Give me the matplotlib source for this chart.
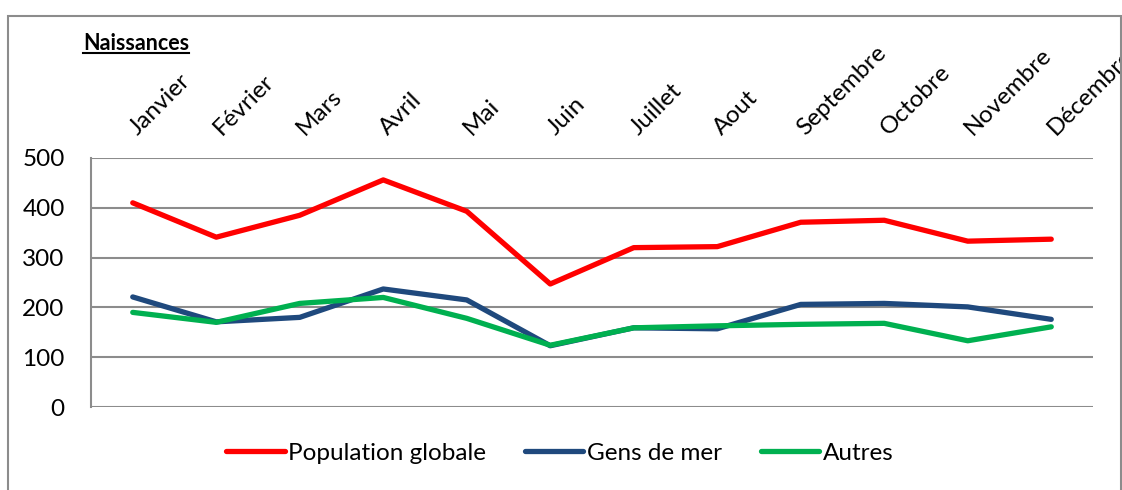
import numpy as np
import matplotlib.pyplot as plt
import matplotlib.transforms as mtransforms
from matplotlib.patches import Rectangle
from matplotlib.lines import Line2D

plt.rcParams['font.family'] = ['Lato', 'DejaVu Sans']

mois = ["Janvier", "Février", "Mars", "Avril", "Mai", "Juin", "Juillet",
        "Aout", "Septembre", "Octobre", "Novembre", "Décembre"]
population_globale = [410, 341, 385, 456, 393, 247, 320, 322, 371, 375, 333, 337]
gens_de_mer = [221, 171, 180, 237, 215, 123, 159, 157, 206, 208, 201, 176]
autres = [190, 170, 208, 220, 178, 124, 159, 163, 166, 168, 133, 161]

W, H = 1122, 490
fig = plt.figure(figsize=(W / 100, H / 100), dpi=100)
ax = fig.add_axes([91 / W, 1 - 407 / H, (1093 - 91) / W, (407 - 158) / H])

x = np.arange(len(mois))
ax.plot(x, population_globale, color='#FF0000', lw=3.8, solid_capstyle='round',
        label='Population globale')
ax.plot(x, gens_de_mer, color='#1F497D', lw=3.8, solid_capstyle='round',
        label='Gens de mer')
ax.plot(x, autres, color='#00B050', lw=3.8, solid_capstyle='round',
        label='Autres')

ax.set_xlim(-0.5, len(mois) - 0.5)
ax.set_ylim(0, 500)
ax.set_yticks([0, 100, 200, 300, 400, 500])
ax.yaxis.grid(True, color='#8C8C8C', lw=1.5)
ax.set_axisbelow(True)
for s in ['top', 'right', 'bottom']:
    ax.spines[s].set_visible(False)
ax.spines['left'].set_color('#8C8C8C')
ax.spines['left'].set_linewidth(1.5)
ax.tick_params(axis='y', length=0, pad=19, labelsize=17.5)

ax.xaxis.tick_top()
ax.set_xticks(x)
ax.set_xticklabels(mois, rotation=45, ha='left', va='baseline',
                   rotation_mode='anchor', fontsize=17.5)
ax.tick_params(axis='x', length=0, pad=16)
# petit decalage vers la droite des mois
decal = mtransforms.ScaledTranslation(5 / 100, 0, fig.dpi_scale_trans)
for lab in ax.get_xticklabels():
    lab.set_transform(lab.get_transform() + decal)

ax.legend(loc='center', bbox_to_anchor=(560 / W, 1 - 453 / H),
          bbox_transform=fig.transFigure, ncol=3, frameon=False,
          fontsize=17.5, handlelength=2.4, handletextpad=0.15, columnspacing=1.6)

# cadre gris autour du graphique
fig.patches.append(Rectangle((8 / W, -0.1), (1121 - 8) / W, 1.1 - 16 / H,
                             transform=fig.transFigure, fill=False,
                             edgecolor='#8C8C8C', lw=1.5))

t = fig.text(83 / W, 1 - 43 / H, "Naissances", fontsize=15.5, fontweight='bold',
             va='center', ha='left')
fig.canvas.draw()
bb = t.get_window_extent().transformed(fig.transFigure.inverted())
fig.lines.append(Line2D([bb.x0, bb.x1], [bb.y0 + 0.002, bb.y0 + 0.002],
                        transform=fig.transFigure, color='black', lw=1.5))

fig.savefig('out.png', dpi=100)
